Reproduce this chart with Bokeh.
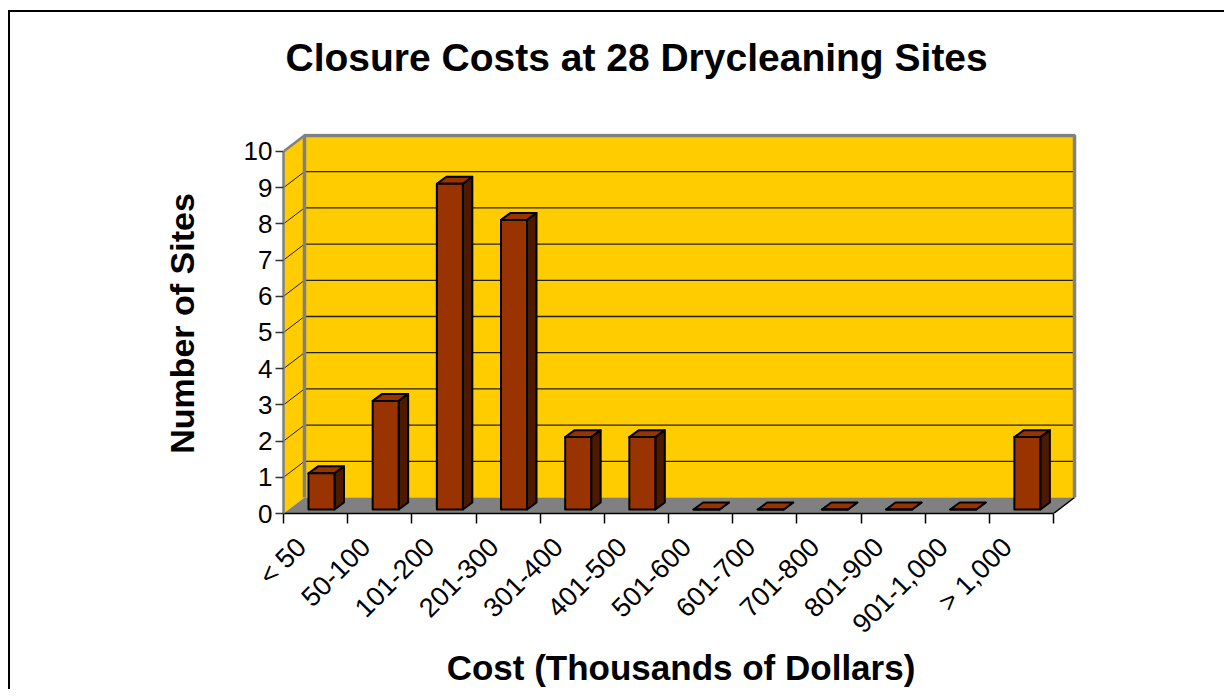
import math
from bokeh.plotting import figure
from bokeh.models import Range1d, FixedTicker, Title
from bokeh.embed import file_html
from bokeh.resources import INLINE

# ---- data ----
categories = ["< 50", "50-100", "101-200", "201-300", "301-400", "401-500",
              "501-600", "601-700", "701-800", "801-900", "901-1,000", "> 1,000"]
counts = [1, 3, 9, 8, 2, 2, 0, 0, 0, 0, 0, 2]
y_ticks = list(range(0, 11))
title_text = "Closure Costs at 28 Drycleaning Sites"

# ---- 3D geometry (data units) ----
N = len(categories)
YMAX = 10
DX, DY = 0.327, 0.442          # wall depth
W = 0.405                      # bar width
BX, BY = 0.092, 0.11           # bar front offset
BDX, BDY = 0.148, 0.193        # bar depth
LABEL_SHIFT = 0.22             # category label anchor shift (left)

FONT = "Liberation Sans"
YELLOW = "#FFCC00"
GRAY = "#808080"

p = figure(frame_width=795, frame_height=380,
           min_border_left=273, min_border_right=146,
           min_border_top=121, min_border_bottom=176,
           x_range=Range1d(0, 12.389), y_range=Range1d(0, 10.497),
           output_backend="svg", toolbar_location=None, title=None,
           background_fill_color="white", border_fill_color="white",
           styles={"border-left": "2px solid black", "border-top": "2px solid black",
                   "margin-top": "10px", "margin-left": "8px"})
p.outline_line_color = None
p.xgrid.visible = False
p.ygrid.visible = False

# spacer between frame and title, then the title itself (stacked outward)
p.add_layout(Title(text=" ", text_font_size="1px", standoff=30), "above")
p.add_layout(Title(text=title_text, align="left", offset=2, vertical_align="top",
                   text_font=FONT, text_font_size="39px", text_font_style="bold",
                   text_color="black", standoff=40), "above")

# back wall and side wall
p.patch([DX, N + DX, N + DX, DX], [DY, DY, YMAX + DY, YMAX + DY],
        fill_color=YELLOW, line_color=None)
p.patch([0, DX, DX, 0], [0, DY, YMAX + DY, YMAX], fill_color=YELLOW, line_color=None)

# gridlines
gv = [v for v in y_ticks if 0 < v < YMAX]
p.segment(x0=[DX] * len(gv), y0=[v + DY for v in gv], x1=[N + DX] * len(gv),
          y1=[v + DY for v in gv], line_color="#222222", line_width=1.3)
p.segment(x0=[0] * len(gv), y0=gv, x1=[DX] * len(gv), y1=[v + DY for v in gv],
          line_color="#222222", line_width=1)

# floor
p.patch([0, N, N + DX, DX], [0, 0, DY, DY], fill_color=GRAY, line_color=None)
p.line([N, N + DX], [0, DY], line_color="black", line_width=1.5)

# wall borders
p.line([DX, DX, N + DX, N + DX], [DY, YMAX + DY, YMAX + DY, DY],
       line_color=GRAY, line_width=3.5)
p.line([0, DX], [YMAX, YMAX + DY], line_color=GRAY, line_width=2.5)

# bars
x0 = [i + 0.5 - W / 2 + BX for i in range(N)]
x1 = [a + W for a in x0]
y0 = [BY] * N
y1 = [BY + v for v in counts]
side_xs = [[b, b + BDX, b + BDX, b] for b in x1]
side_ys = [[lo, lo + BDY, hi + BDY, hi] for lo, hi in zip(y0, y1)]
top_xs = [[a, b, b + BDX, a + BDX] for a, b in zip(x0, x1)]
top_ys = [[hi, hi, hi + BDY, hi + BDY] for hi in y1]
p.patches(side_xs, side_ys, fill_color="#4D1A00", line_color="black",
          line_width=2, line_join="round")
p.patches(top_xs, top_ys, fill_color="#993300", line_color="black",
          line_width=2, line_join="round")
p.quad(left=x0, right=x1, bottom=y0, top=y1, fill_color="#993300",
       line_color="black", line_width=2, line_join="round")

# y axis
ya = p.yaxis[0]
ya.ticker = FixedTicker(ticks=y_ticks, minor_ticks=[])
ya.bounds = (0, YMAX)
ya.axis_line_color = GRAY
ya.axis_line_width = 2.5
ya.major_tick_out = 8
ya.major_tick_in = 0
ya.major_tick_line_color = "#333333"
ya.major_tick_line_width = 1.5
ya.major_label_text_font = FONT
ya.major_label_text_font_size = "26px"
ya.major_label_text_color = "black"
ya.major_label_standoff = 3
ya.axis_label = "Number of Sites"
ya.axis_label_text_font = FONT
ya.axis_label_text_font_size = "34px"
ya.axis_label_text_font_style = "bold"
ya.axis_label_text_color = "black"
ya.axis_label_standoff = 40

# x axis
xa = p.xaxis[0]
label_pos = [i + 0.5 - LABEL_SHIFT for i in range(N)]
xa.ticker = FixedTicker(ticks=label_pos, minor_ticks=list(range(0, N + 1)))
xa.major_label_overrides = {c: lab for c, lab in zip(label_pos, categories)}
xa.bounds = (0, N)
xa.axis_line_color = "black"
xa.axis_line_width = 1.5
xa.major_tick_line_color = None
xa.major_tick_out = 10
xa.major_tick_in = 0
xa.minor_tick_line_color = "black"
xa.minor_tick_line_width = 1.5
xa.minor_tick_out = 10
xa.minor_tick_in = 0
xa.major_label_orientation = math.pi / 4
xa.major_label_text_font = FONT
xa.major_label_text_font_size = "27px"
xa.major_label_text_color = "black"
xa.major_label_standoff = 19
xa.axis_label = "Cost (Thousands of Dollars)"
xa.axis_label_text_font = FONT
xa.axis_label_text_font_size = "35px"
xa.axis_label_text_font_style = "bold"
xa.axis_label_text_color = "black"
xa.axis_label_standoff = -5

open("out.html", "w").write(file_html(p, INLINE))
